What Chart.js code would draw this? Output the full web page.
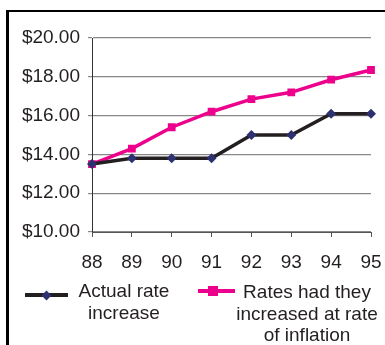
<!DOCTYPE html>
<html>
<head>
<meta charset="utf-8">
<script src="https://cdn.jsdelivr.net/npm/chart.js@4/dist/chart.umd.min.js"></script>
<style>
  html, body { margin: 0; padding: 0; background: #fff; }
  body { width: 385px; height: 345px; position: relative; overflow: hidden;
         font-family: "Liberation Sans", Arial, sans-serif; color: #231f20; }
  #frame { position: absolute; left: 6px; top: 10px; width: 400px; height: 400px;
           border-left: 3px solid #000; border-top: 2px solid #000; }
  #wrap { position: absolute; left: 0; top: 0; width: 385px; height: 345px; }
  .leg { position: absolute; font-size: 19px; line-height: 21.5px; text-align: center; white-space: nowrap; }
  .sym { position: absolute; height: 4px; }
  .mark { position: absolute; }
</style>
</head>
<body>
<div id="frame"></div>
<div id="wrap"><canvas id="lineChart" width="385" height="345"></canvas></div>

<!-- legend drawn as html so the labels can wrap like the original -->
<div class="sym" style="left:25px; top:293px; width:43px; background:#231f20;"></div>
<div class="mark" style="left:43px; top:292px; width:7px; height:7px; background:#2e3170; transform:rotate(45deg);"></div>
<div class="leg" style="left:64px; top:280px; width:120px;">Actual rate<br>increase</div>

<div class="sym" style="left:198px; top:289px; width:37px; background:#ec008c;"></div>
<div class="mark" style="left:208px; top:286px; width:10px; height:10px; background:#ec008c;"></div>
<div class="leg" style="left:232px; top:281px; width:150px;">Rates had they<br>increased at rate<br>of inflation</div>

<script>
var years = ['88', '89', '90', '91', '92', '93', '94', '95'];
var actualRate = [13.5, 13.8, 13.8, 13.8, 15.0, 15.0, 16.1, 16.1];
var inflationRate = [13.5, 14.3, 15.4, 16.2, 16.85, 17.2, 17.85, 18.35];

document.addEventListener("DOMContentLoaded", function() {
    var ctx = document.getElementById('lineChart').getContext('2d');
    var tickFont = { family: '"Liberation Sans", Arial, sans-serif', size: 19 };

    new Chart(ctx, {
        type: 'line',
        data: {
            labels: years,
            datasets: [{
                label: 'Actual rate increase',
                data: actualRate,
                borderColor: '#231f20',
                borderWidth: 3.5,
                pointStyle: 'rectRot',
                pointRadius: 5,
                pointBackgroundColor: '#2e3170',
                pointBorderColor: '#2e3170',
                pointBorderWidth: 0,
                fill: false,
                tension: 0
            }, {
                label: 'Rates had they increased at rate of inflation',
                data: inflationRate,
                borderColor: '#ec008c',
                borderWidth: 3.5,
                pointStyle: 'rect',
                pointRadius: 5.5,
                pointBackgroundColor: '#ec008c',
                pointBorderColor: '#ec008c',
                pointBorderWidth: 0,
                fill: false,
                tension: 0
            }]
        },
        options: {
            responsive: false,
            animation: false,
            layout: { padding: { left: 0, right: 14, top: 38, bottom: 73 } },
            plugins: { legend: { display: false }, tooltip: { enabled: false } },
            scales: {
                x: {
                    type: 'category',
                    offset: false,
                    afterFit: function(axis) {
                        axis.height = 40;
                        axis.paddingLeft = 0;
                        axis.paddingRight = 0;
                    },
                    grid: { drawOnChartArea: false, drawTicks: true, tickLength: 5, color: '#555' },
                    border: { color: '#555', width: 1 },
                    ticks: { color: '#231f20', font: tickFont, padding: 14, maxRotation: 0 }
                },
                y: {
                    min: 10,
                    max: 20,
                    afterFit: function(axis) { axis.width = 92; },
                    grid: { color: '#888', lineWidth: 1.2, tickLength: 4 },
                    border: { color: '#333', width: 1 },
                    ticks: {
                        stepSize: 2,
                        color: '#231f20',
                        font: tickFont,
                        padding: 8,
                        callback: function(v) { return '$' + v.toFixed(2); }
                    }
                }
            }
        }
    });
});
</script>
</body>
</html>
